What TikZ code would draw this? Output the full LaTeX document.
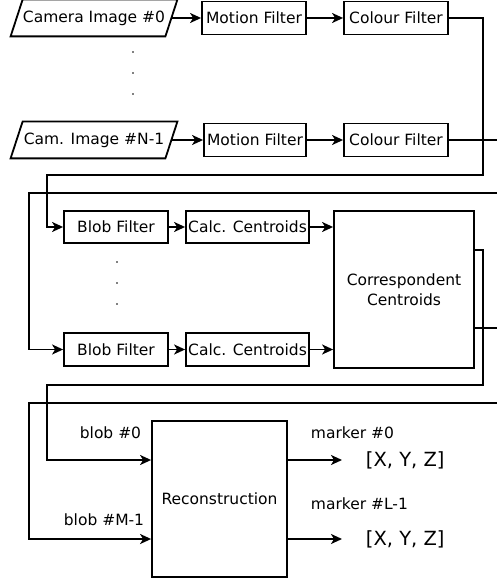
\documentclass[tikz,border=0pt]{standalone}
\usepackage{fontspec}
\setmainfont{DejaVu Sans}
\usetikzlibrary{arrows.meta,calc}
\begin{document}
\begin{tikzpicture}[x=1pt,y=-1pt,
  line width=1.8pt,
  every node/.style={font=\fontsize{15.5}{20}\selectfont, inner sep=0pt},
  box/.style={draw, minimum height=33pt},
  para/.style={minimum width=153pt, minimum height=35pt},
  arr/.style={-{Stealth[length=11pt,width=10pt,inset=3pt]}},
  dot/.style={fill, circle, minimum size=1.8pt, inner sep=0pt}
]
\useasboundingbox (0,0) rectangle (497,580);
% --- row 1
\node[para] (cam0) at (94,18) {Camera Image \#0};
\draw ([xshift=6pt]cam0.north west) -- ([xshift=6pt]cam0.north east) -- ([xshift=-6pt]cam0.south east) -- ([xshift=-6pt]cam0.south west) -- cycle;
\node[box, minimum width=104pt] (mf1) at (254,18) {Motion Filter};
\node[box, minimum width=104pt] (cf1) at (396,18) {Colour Filter};
\node[para] (cam1) at (94,140) {Cam. Image \#N-1};
\draw ([xshift=6pt]cam1.north west) -- ([xshift=6pt]cam1.north east) -- ([xshift=-6pt]cam1.south east) -- ([xshift=-6pt]cam1.south west) -- cycle;
\node[box, minimum width=102pt] (mf2) at (255,140) {Motion Filter};
\node[box, minimum width=104pt] (cf2) at (396,140) {Colour Filter};
\node[dot] (d1) at (133,52) {};
\node[dot] (d2) at (133,73) {};
\node[dot] (d3) at (133,94) {};
\draw[arr] (cam0.east) -- (mf1.west);
\draw[arr] (mf1.east) -- (cf1.west);
\draw[arr] (cam1.east) -- (mf2.west);
\draw[arr] (mf2.east) -- (cf2.west);
% --- row 2
\node[box, minimum width=104pt, minimum height=32pt] (bf1) at (116,227) {Blob Filter};
\node[box, minimum width=123pt, minimum height=32pt] (cc1) at (247.5,227) {Calc. Centroids};
\node[box, minimum width=104pt] (bf2) at (116,349.5) {Blob Filter};
\node[box, minimum width=123pt] (cc2) at (247.5,349.5) {Calc. Centroids};
\node[draw, minimum width=140pt, minimum height=157pt, align=center] (corr) at (404,289.5) {Correspondent\\Centroids};
\node[dot] (d4) at (117,262) {};
\node[dot] (d5) at (117,283) {};
\node[dot] (d6) at (117,304) {};
\draw[arr] (bf1.east) -- (cc1.west);
\draw[arr] (bf2.east) -- (cc2.west);
\draw[arr] (cc1.east) -- (cc1.east -| corr.west);
\draw[arr] (cc2.east) -- (cc2.east -| corr.west);
% --- connectors between sections
\coordinate (e1) at (497,140);
\coordinate (e2) at (497,193);
\coordinate (e3) at (497,328);
\coordinate (e4) at (497,403);
\draw[arr] (cf1.east) -| (483,175) -| (47,227) -- (bf1.west);
\draw (cf2.east) -- (e1);
\draw[arr] (e2) -| (29,349.5) -- (bf2.west);
% --- row 3
\node[draw, minimum width=135pt, minimum height=156pt] (rec) at (219.5,499) {Reconstruction};
\draw[arr] (corr.east |- 0,250) -| (483,385) -| (47,460) -- (rec.west |- 0,460);
\draw (corr.east |- 0,328) -- (e3);
\draw[arr] (e4) -| (29,539) -- (rec.west |- 0,539);
\node[anchor=east] (b0) at (142,433) {blob \#0};
\node[anchor=east] (b1) at (145,520) {blob \#M-1};
\node[anchor=west] (m0) at (310,433) {marker \#0};
\node[anchor=west] (m1) at (310,504) {marker \#L-1};
\node[anchor=west, font=\fontsize{19.5}{22}\selectfont] (x0) at (365,460) {[X, Y, Z]};
\node[anchor=west, font=\fontsize{19.5}{22}\selectfont] (x1) at (365,539) {[X, Y, Z]};
\draw[arr] (rec.east |- x0) -- ([xshift=-23pt]x0.west);
\draw[arr] (rec.east |- x1) -- ([xshift=-23pt]x1.west);
\end{tikzpicture}
\end{document}
